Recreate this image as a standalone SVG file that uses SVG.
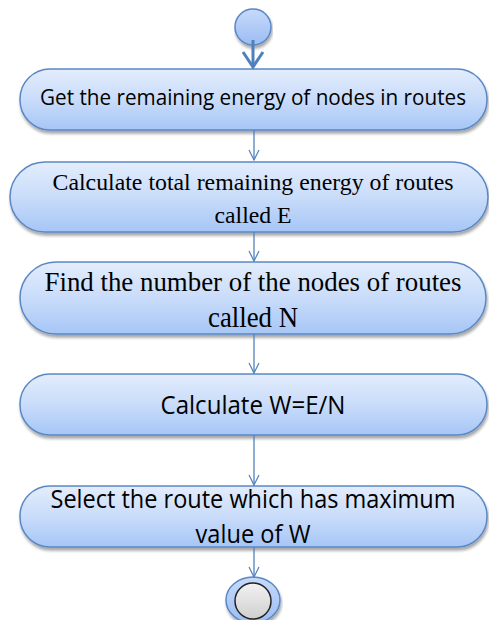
<svg xmlns="http://www.w3.org/2000/svg" width="489" height="620" viewBox="0 0 489 620">
<defs>
<linearGradient id="g" x1="0" y1="0" x2="0" y2="1">
<stop offset="0" stop-color="#e3edfc"/>
<stop offset="0.5" stop-color="#c9dcfa"/>
<stop offset="1" stop-color="#a6c6f6"/>
</linearGradient>
<linearGradient id="gc" x1="0" y1="0" x2="0" y2="1">
<stop offset="0" stop-color="#c7dafb"/>
<stop offset="1" stop-color="#9cbcf3"/>
</linearGradient>
<linearGradient id="gi" x1="0" y1="0" x2="0" y2="1">
<stop offset="0" stop-color="#f2f2f2"/>
<stop offset="1" stop-color="#cfcfcf"/>
</linearGradient>
<filter id="sh" x="-5%" y="-20%" width="110%" height="150%">
<feGaussianBlur in="SourceAlpha" stdDeviation="1.5"/>
<feOffset dx="1" dy="2.5" result="b"/>
<feComponentTransfer><feFuncA type="linear" slope="0.35"/></feComponentTransfer>
<feMerge><feMergeNode/><feMergeNode in="SourceGraphic"/></feMerge>
</filter>
<marker id="a" markerWidth="12" markerHeight="12" refX="11" refY="6" orient="auto" markerUnits="userSpaceOnUse" viewBox="0 0 12 12">
<path d="M1,1 L11,6 L1,11" fill="none" stroke="#4f81bd" stroke-width="1.2"/>
</marker>
</defs>
<style>
.box{fill:url(#g);stroke:#5a88c4;stroke-width:1.5;filter:url(#sh)}
.con{stroke:#4f81bd;stroke-width:1.3;fill:none;marker-end:url(#a)}
.sans{font-family:"Open Sans","Liberation Sans",sans-serif;fill:#000}
.serif{font-family:"Liberation Serif","Times New Roman",serif;fill:#000}
</style>

<g id="start">
<circle cx="253" cy="27" r="18" fill="url(#gc)" stroke="#5a88c4" stroke-width="1.5" filter="url(#sh)"/>
</g>

<g id="n1">
<rect class="box" x="20" y="69" width="467" height="61" rx="30" ry="30"/>
<text class="sans" x="253" y="105" font-size="21" text-anchor="middle" textLength="426" lengthAdjust="spacingAndGlyphs">Get the remaining energy of nodes in routes</text>
</g>

<g id="n2">
<rect class="box" x="10" y="162" width="478" height="70" rx="35" ry="35"/>
<text class="serif" x="253" y="190" font-size="23" text-anchor="middle" textLength="401" lengthAdjust="spacingAndGlyphs">Calculate total remaining energy of routes</text>
<text class="serif" x="253" y="223" font-size="23" text-anchor="middle" textLength="77" lengthAdjust="spacingAndGlyphs">called E</text>
</g>

<g id="n3">
<rect class="box" x="20" y="262" width="466" height="72" rx="36" ry="36"/>
<text class="serif" x="253" y="291" font-size="27" text-anchor="middle" textLength="417" lengthAdjust="spacingAndGlyphs">Find the number of the nodes of routes</text>
<text class="serif" x="253" y="327" font-size="29" text-anchor="middle" textLength="90" lengthAdjust="spacingAndGlyphs">called N</text>
</g>

<g id="n4">
<rect class="box" x="20" y="374" width="467" height="61" rx="30" ry="30"/>
<text class="sans" x="253" y="414" font-size="26" text-anchor="middle" textLength="185" lengthAdjust="spacingAndGlyphs">Calculate W=E/N</text>
</g>

<g id="n5">
<rect class="box" x="20" y="486" width="467" height="61" rx="30" ry="30"/>
<text class="sans" x="253" y="508" font-size="25" text-anchor="middle" textLength="405" lengthAdjust="spacingAndGlyphs">Select the route which has maximum</text>
<text class="sans" x="253" y="543" font-size="25" text-anchor="middle" textLength="115" lengthAdjust="spacingAndGlyphs">value of W</text>
</g>

<g id="end">
<ellipse cx="253" cy="600" rx="27" ry="23" fill="url(#gc)" stroke="#5a88c4" stroke-width="1.5" filter="url(#sh)"/>
<circle cx="253" cy="601" r="18" fill="url(#gi)" stroke="#222" stroke-width="1.5"/>
</g>

<g id="connectors">
<path d="M253,40 L253,67" stroke="#4f81bd" stroke-width="3" fill="none"/>
<path d="M243,52 L253,67 L263,52" stroke="#4f81bd" stroke-width="3" fill="none"/>
<line class="con" x1="254" y1="130" x2="254" y2="160"/>
<line class="con" x1="254" y1="232" x2="254" y2="261"/>
<line class="con" x1="254" y1="334" x2="254" y2="373"/>
<line class="con" x1="254" y1="435" x2="254" y2="485"/>
<line class="con" x1="254" y1="547" x2="254" y2="577"/>
</g>
</svg>
